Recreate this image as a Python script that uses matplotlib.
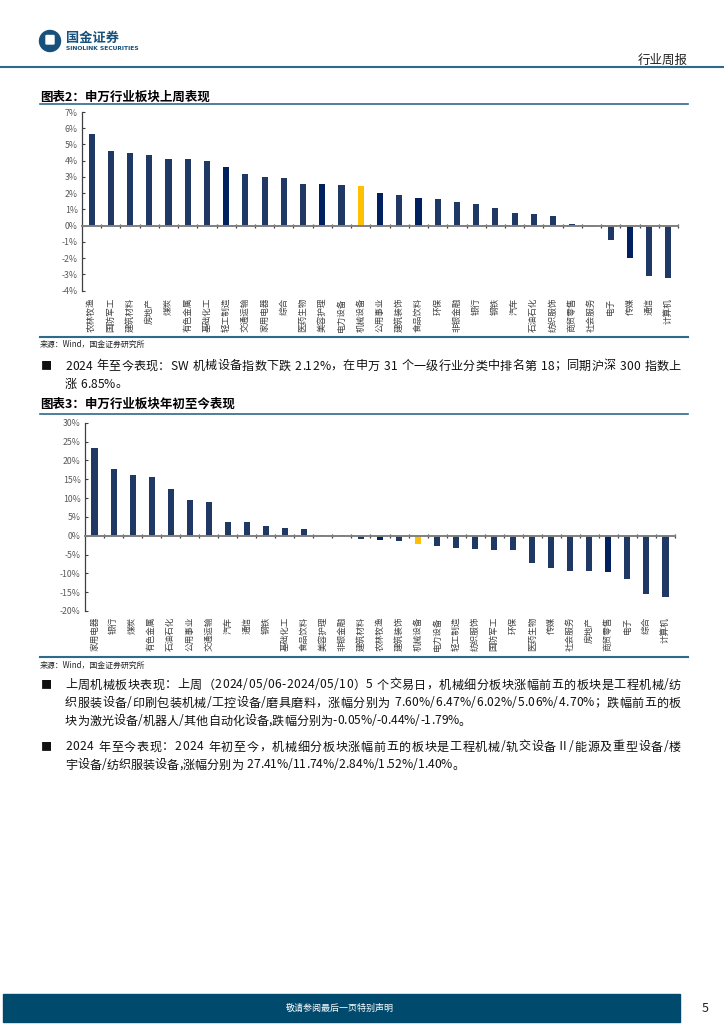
import matplotlib
matplotlib.use('Agg')
import matplotlib.pyplot as plt
from matplotlib.patches import Circle, FancyBboxPatch, Rectangle
import numpy as np

plt.rcParams['font.family'] = ['Noto Sans CJK SC', 'DejaVu Sans']

# 图表2: 申万行业板块上周表现 (%)
week_names = ['农林牧渔', '国防军工', '建筑材料', '房地产', '煤炭', '有色金属', '基础化工', '轻工制造',
              '交通运输', '家用电器', '综合', '医药生物', '美容护理', '电力设备', '机械设备', '公用事业',
              '建筑装饰', '食品饮料', '环保', '非银金融', '银行', '钢铁', '汽车', '石油石化', '纺织服饰',
              '商贸零售', '社会服务', '电子', '传媒', '通信', '计算机']
week_vals = [5.65, 4.62, 4.48, 4.33, 4.13, 4.13, 3.96, 3.61, 3.16, 3.00, 2.94, 2.55, 2.55, 2.48, 2.44,
             1.99, 1.87, 1.70, 1.64, 1.44, 1.31, 1.09, 0.76, 0.70, 0.60, 0.12, -0.08, -0.86, -1.99,
             -3.12, -3.24]
week_dark = ['轻工制造', '美容护理', '公用事业', '食品饮料', '传媒']

# 图表3: 申万行业板块年初至今表现 (%)
ytd_names = ['家用电器', '银行', '煤炭', '有色金属', '石油石化', '公用事业', '交通运输', '汽车', '通信',
             '钢铁', '基础化工', '食品饮料', '美容护理', '非银金融', '建筑材料', '农林牧渔', '建筑装饰',
             '机械设备', '电力设备', '轻工制造', '纺织服饰', '国防军工', '环保', '医药生物', '传媒',
             '社会服务', '房地产', '商贸零售', '电子', '综合', '计算机']
ytd_vals = [23.2, 17.6, 16.2, 15.7, 12.3, 9.6, 8.9, 3.7, 3.7, 2.65, 1.95, 1.7, 0.2, 0.1, -1.0, -1.2,
            -1.5, -2.12, -2.7, -3.3, -3.6, -3.9, -3.9, -7.3, -8.5, -9.4, -9.4, -9.7, -11.6, -15.6, -16.2]
ytd_dark = ['农林牧渔', '商贸零售']

NAVY = '#1f3864'
DARK = '#002060'
GOLD = '#ffc000'
RULE = '#2e6a8e'
GREY = '#404040'

W, H = 724, 1024
fig = plt.figure(figsize=(7.24, 10.24), dpi=100)
renderer = fig.canvas.get_renderer()

# page layer in pixel coordinates
page = fig.add_axes([0, 0, 1, 1])
page.set_xlim(0, W)
page.set_ylim(H, 0)
page.axis('off')


def rect(l, t, r, b):
    return [l / W, 1 - b / H, (r - l) / W, (b - t) / H]


def bar_chart(box, names, vals, dark, lo, hi, step, label_y):
    ax = fig.add_axes(rect(*box))
    ax.patch.set_alpha(0)
    x = np.arange(len(names))
    colors = [GOLD if n == '机械设备' else (DARK if n in dark else NAVY) for n in names]
    ax.bar(x, vals, width=0.32, color=colors, zorder=2)
    ax.set_xlim(-0.5, len(names) - 0.5)
    ax.set_ylim(lo, hi)
    ax.set_yticks(np.arange(lo, hi + step, step))
    ax.yaxis.set_major_formatter(lambda v, p: f'{v:.0f}%')
    ax.tick_params(axis='y', direction='in', length=2, width=0.8, labelsize=6.3,
                   labelcolor='#595959', color=GREY, pad=3)
    for s in ['top', 'right']:
        ax.spines[s].set_visible(False)
    ax.spines['left'].set_color(GREY)
    ax.spines['left'].set_linewidth(0.9)
    ax.spines['bottom'].set_position(('data', 0))
    ax.spines['bottom'].set_color('#808080')
    ax.spines['bottom'].set_linewidth(1.4)
    ax.spines['bottom'].set_zorder(3)
    ax.set_xticks(np.arange(len(names)) + 0.5)
    ax.tick_params(axis='x', direction='inout', length=3, width=0.9, color=GREY, labelbottom=False)
    for i, n in enumerate(names):
        ax.text(i, label_y, n, transform=ax.get_xaxis_transform(), rotation=90,
                ha='center', va='top', fontsize=6.2, color='#404040')
    return ax


def put_line(x0, y, s, size, right=None):
    # draw one line of body text, spreading characters to reach `right` when given
    widths = []
    for ch in s:
        t = page.text(0, 0, ch, fontsize=size)
        w = t.get_window_extent(renderer).width
        t.remove()
        if ch == ' ' or w == 0:
            w = size * 100 / 72 * 0.3
        widths.append(w)
    extra = 0 if right is None else (right - x0 - sum(widths)) / (len(s) - 1)
    x = x0
    for ch, w in zip(s, widths):
        if ch != ' ':
            page.text(x, y, ch, fontsize=size, va='center', color='#111111')
        x += w + extra


bar_chart((82, 112, 678, 290.7), week_names, week_vals, week_dark, -4, 7, 1, -0.04)
bar_chart((85, 422.7, 675, 611), ytd_names, ytd_vals, ytd_dark, -20, 30, 5, -0.03)

# header
page.add_patch(Circle((50, 41), 10.5, color='#17507a'))
page.add_patch(FancyBboxPatch((46.5, 36), 7, 7.5, boxstyle='round,pad=0.5', color='white'))
page.text(66, 38, '国金证券', fontsize=9.5, fontweight='bold', color='#17507a', va='center')
page.text(66, 48.5, 'SINOLINK SECURITIES', fontsize=4.3, fontweight='bold', color='#17507a',
          va='center', family=['DejaVu Sans'])
page.text(688, 60, '行业周报', fontsize=9, color='#222222', ha='right', va='center')
page.plot([0, W], [67, 67], color=RULE, lw=1.5)

# chart titles and rules
page.text(40, 97, '图表2：申万行业板块上周表现', fontsize=9, fontweight='bold', va='center')
page.plot([40, 688], [104, 104], color=RULE, lw=1.2)
page.plot([40, 688], [337, 337], color=RULE, lw=1.5)
page.text(40, 344, '来源：Wind，国金证券研究所', fontsize=5.7, va='center', color='#222222')

page.text(40, 404, '图表3：申万行业板块年初至今表现', fontsize=9, fontweight='bold', va='center')
page.plot([40, 688], [414, 414], color=RULE, lw=1.2)
page.plot([40, 688], [657, 657], color=RULE, lw=1.5)
page.text(40, 665, '来源：Wind，国金证券研究所', fontsize=5.7, va='center', color='#222222')

# body paragraphs
paras = [
    (366, ['2024 年至今表现：SW 机械设备指数下跌 2.12%，在申万 31 个一级行业分类中排名第 18；同期沪深 300 指数上',
           '涨 6.85%。']),
    (685, ['上周机械板块表现：上周（2024/05/06-2024/05/10）5 个交易日，机械细分板块涨幅前五的板块是工程机械/纺',
           '织服装设备/印刷包装机械/工控设备/磨具磨料，涨幅分别为 7.60%/6.47%/6.02%/5.06%/4.70%；跌幅前五的板',
           '块为激光设备/机器人/其他自动化设备,跌幅分别为-0.05%/-0.44%/-1.79%。']),
    (747, ['2024 年至今表现：2024 年初至今，机械细分板块涨幅前五的板块是工程机械/轨交设备Ⅱ/能源及重型设备/楼',
           '宇设备/纺织服装设备,涨幅分别为 27.41%/11.74%/2.84%/1.52%/1.40%。']),
]
for top, lines in paras:
    page.text(41, top, '■', fontsize=8, va='center', color='#111111')
    for k, line in enumerate(lines):
        last = k == len(lines) - 1
        put_line(65, top + 18 * k, line, 8.7, None if last else 681)

# footer
page.add_patch(Rectangle((3, 994), 677, 28, color='#004a6e'))
page.text(340, 1008, '敬请参阅最后一页特别声明', fontsize=6.5, color='white', ha='center', va='center')
page.text(705, 1008, '5', fontsize=9, color='#222222', ha='center', va='center')

fig.savefig('out.png', dpi=100)
